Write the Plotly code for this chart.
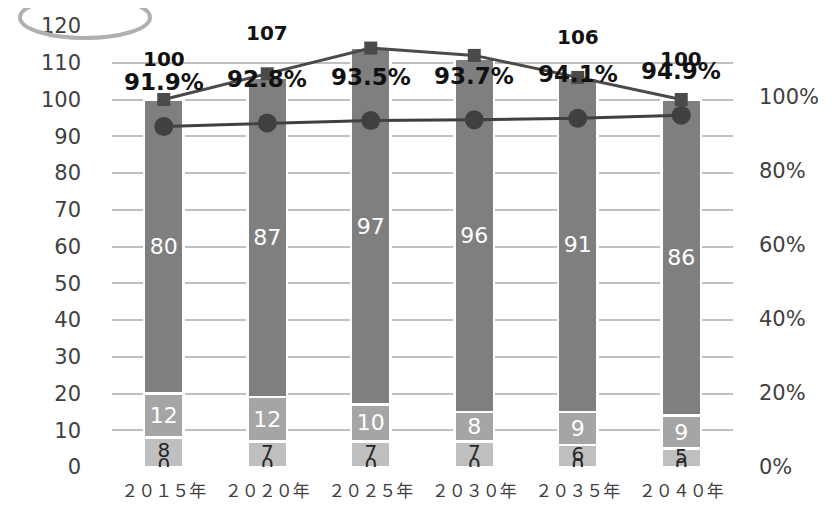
import plotly.graph_objects as go

categories = ["２０１５年", "２０２０年", "２０２５年", "２０３０年", "２０３５年", "２０４０年"]
seg_zero = [0, 0, 0, 0, 0, 0]
seg_small = [8, 7, 7, 7, 6, 5]
seg_mid = [12, 12, 10, 8, 9, 9]
seg_large = [80, 87, 97, 96, 91, 86]
totals = [100, 107, 114, 112, 106, 100]
ratios = [0.919, 0.928, 0.935, 0.937, 0.941, 0.949]
left_ticks = [0, 10, 20, 30, 40, 50, 60, 70, 80, 90, 100, 110, 120]
right_ticks = [0, 0.2, 0.4, 0.6, 0.8, 1.0]

# page body has an 8px default margin; compensate
OFF = 8
W, H = 839 - OFF, 507 - OFF
ML, MR, MT, MB = 112 - OFF, 106, 26 - OFF, 40
PW, PH = W - ML - MR, H - MT - MB

fig = go.Figure()

seg_font = dict(family="DejaVu Sans", size=22)
bar_common = dict(width=0.38, marker_line_color="white", marker_line_width=2.5,
                  textposition="inside", insidetextanchor="middle", textangle=0,
                  hoverinfo="skip")

fig.add_bar(x=categories, y=seg_zero, marker_color="#d9d9d9", **bar_common)
fig.add_bar(x=categories, y=seg_small, marker_color="#bfbfbf", **bar_common)
fig.add_bar(x=categories, y=seg_mid, marker_color="#a5a5a5", text=seg_mid,
            textfont=dict(seg_font, color="white"), **bar_common)
fig.add_bar(x=categories, y=seg_large, marker_color="#7f7f7f", text=seg_large,
            textfont=dict(seg_font, color="white"), **bar_common)

# labels of the small segments (placed at each segment's middle)
small_mid = [z + s / 2 for z, s in zip(seg_zero, seg_small)]
fig.add_scatter(x=categories, y=small_mid, mode="text", text=[str(v) for v in seg_small],
                textposition="middle center",
                textfont=dict(family="DejaVu Sans", size=20, color="#262626"),
                hoverinfo="skip")

# zero-series labels
fig.add_scatter(x=categories, y=seg_zero, mode="text", text=[str(v) for v in seg_zero],
                textposition="middle center",
                textfont=dict(family="DejaVu Sans", size=20, color="#262626"),
                hoverinfo="skip")

# totals line
fig.add_scatter(x=categories, y=totals, mode="lines+markers",
                line=dict(color="#4a4a4a", width=3),
                marker=dict(symbol="square", size=13, color="#4a4a4a"), hoverinfo="skip")

# ratio line
fig.add_scatter(x=categories, y=ratios, yaxis="y2", mode="lines+markers",
                line=dict(color="#404040", width=3),
                marker=dict(symbol="circle", size=19, color="#404040"), hoverinfo="skip")

ann = []
for c, t in zip(categories, totals):
    ann.append(dict(x=c, y=min(t + 11, 120.5), xref="x", yref="y", text=f"<b>{t}</b>",
                    showarrow=False, font=dict(family="DejaVu Sans", size=20, color="#111111")))
for c, r in zip(categories, ratios):
    ann.append(dict(x=c, y=r, xref="x", yref="y2", yshift=44, text=f"<b>{r*100:.1f}%</b>",
                    showarrow=False, font=dict(family="DejaVu Sans", size=23, color="#111111")))

tick_font = dict(family="DejaVu Sans", size=21, color="#404040")

fig.update_layout(
    width=W, height=H,
    margin=dict(l=ML, r=MR, t=MT, b=MB, autoexpand=False),
    paper_bgcolor="white", plot_bgcolor="white",
    barmode="stack", bargap=0.62, showlegend=False,
    uniformtext=dict(mode="show", minsize=22),
    xaxis=dict(tickfont=dict(family="Noto Sans CJK JP", size=17, color="#404040"),
               showgrid=False, zeroline=False, showline=False, ticks="",
               ticklabelstandoff=12, automargin=False),
    yaxis=dict(range=[0, 120], tickvals=left_ticks, tickfont=tick_font,
               showgrid=True, gridcolor="#c0c0c0", gridwidth=2, zeroline=False,
               ticklabelstandoff=30, automargin=False),
    yaxis2=dict(range=[0, 1.19], overlaying="y", side="right", tickvals=right_ticks,
                tickformat=".0%", showgrid=False, zeroline=False, tickfont=tick_font,
                ticklabelstandoff=25, automargin=False),
    annotations=ann,
    shapes=[dict(type="circle", xref="paper", yref="paper",
                 x0=(20 - OFF - ML) / PW, x1=(150 - OFF - ML) / PW,
                 y0=(467 - 38) / PH, y1=(467 + 3) / PH,
                 line=dict(color="#b0b0b0", width=4))],
)

fig.write_html("out.html")
